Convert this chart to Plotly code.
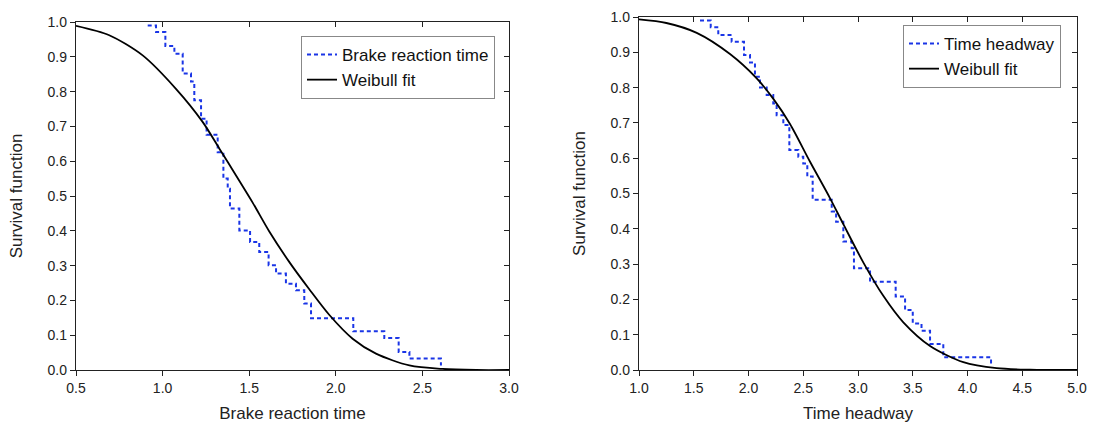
import plotly.graph_objects as go

# ---------------- data ----------------
# Left panel: empirical survival (step) for brake reaction time
brt_x = [0.914, 0.962, 1.016, 1.068, 1.116, 1.164, 1.183, 1.222, 1.254, 1.318, 1.351,
         1.376, 1.389, 1.443, 1.505, 1.558, 1.612, 1.655, 1.712, 1.77, 1.818, 1.857,
         2.101, 2.28, 2.363, 2.425, 2.607]
brt_s = [0.99, 0.971, 0.931, 0.909, 0.852, 0.829, 0.775, 0.722, 0.676, 0.626, 0.55,
         0.521, 0.464, 0.401, 0.368, 0.339, 0.301, 0.277, 0.248, 0.229, 0.191, 0.149,
         0.111, 0.092, 0.052, 0.033, 0.013]
# Left panel: Weibull fit
brt_fit_x = [0.5, 0.692, 0.885, 1.077, 1.231, 1.328, 1.424, 1.52, 1.616, 1.732,
             1.847, 1.963, 2.097, 2.232, 2.425, 2.617, 2.81, 3.0]
brt_fit_s = [0.989, 0.962, 0.904, 0.808, 0.713, 0.636, 0.559, 0.481, 0.398, 0.31,
             0.232, 0.158, 0.09, 0.047, 0.013, 0.003, 0.0, 0.0]

# Right panel: empirical survival (step) for time headway
thw_x = [1.557, 1.655, 1.724, 1.846, 1.959, 2.014, 2.059, 2.105, 2.166, 2.226,
         2.257, 2.318, 2.373, 2.455, 2.50, 2.537, 2.586, 2.76, 2.80, 2.866,
         2.942, 2.963, 3.11, 3.344, 3.43, 3.50, 3.58, 3.658, 3.779, 4.215]
thw_s = [0.99, 0.971, 0.949, 0.93, 0.892, 0.871, 0.831, 0.80, 0.779, 0.755,
         0.722, 0.694, 0.623, 0.604, 0.585, 0.548, 0.482, 0.449, 0.42, 0.364,
         0.345, 0.288, 0.25, 0.208, 0.17, 0.132, 0.111, 0.074, 0.036, 0.014]
# Right panel: Weibull fit
thw_fit_x = [1.0, 1.25, 1.527, 1.831, 2.075, 2.227, 2.379, 2.562, 2.744, 2.866,
             3.048, 3.231, 3.414, 3.658, 3.962, 4.266, 4.57, 5.0]
thw_fit_s = [0.993, 0.983, 0.955, 0.895, 0.826, 0.768, 0.697, 0.59, 0.487, 0.413,
             0.305, 0.21, 0.135, 0.068, 0.022, 0.005, 0.001, 0.0]

x_titles = ["Brake reaction time", "Time headway"]
y_title = "Survival function"
legend_names = [["Brake reaction time", "Weibull fit"], ["Time headway", "Weibull fit"]]

# ---------------- figure ----------------
W, H = 1093, 427
BLUE = "#1a35e6"
AX = "#222222"
FONT = "Arial, Liberation Sans, sans-serif"

fig = go.Figure()

fig.add_trace(go.Scatter(x=brt_x, y=brt_s, mode="lines", line_shape="hv",
                         line=dict(color=BLUE, width=2, dash="4px,3px"),
                         name=legend_names[0][0], xaxis="x", yaxis="y", legend="legend"))
fig.add_trace(go.Scatter(x=brt_fit_x, y=brt_fit_s, mode="lines", line_shape="spline",
                         line=dict(color="black", width=1.8, smoothing=0.8),
                         name=legend_names[0][1], xaxis="x", yaxis="y", legend="legend"))
fig.add_trace(go.Scatter(x=thw_x, y=thw_s, mode="lines", line_shape="hv",
                         line=dict(color=BLUE, width=2, dash="4px,3px"),
                         name=legend_names[1][0], xaxis="x2", yaxis="y2", legend="legend2"))
fig.add_trace(go.Scatter(x=thw_fit_x, y=thw_fit_s, mode="lines", line_shape="spline",
                         line=dict(color="black", width=1.8, smoothing=0.8),
                         name=legend_names[1][1], xaxis="x2", yaxis="y2", legend="legend2"))
# invisible traces so that mirrored (inward-tick) axes are drawn
for xa, ya in (("x3", "y3"), ("x4", "y4")):
    fig.add_trace(go.Scatter(x=[None], y=[None], xaxis=xa, yaxis=ya, showlegend=False,
                             hoverinfo="skip"))

dom = {
    "L": dict(x=[76 / W, 509 / W], y=[(H - 370) / H, (H - 22) / H]),
    "R": dict(x=[639 / W, 1077 / W], y=[(H - 370) / H, (H - 17) / H]),
}

tickfont = dict(family=FONT, size=14, color=AX)
titlefont = dict(family=FONT, size=17, color=AX)

def main_x(domain, rng, dtick, title, anchor):
    return dict(domain=domain, range=rng, dtick=dtick, tick0=rng[0], anchor=anchor,
                automargin=False,
                showline=True, linecolor=AX, linewidth=1.4, ticks="outside",
                ticklen=5, tickwidth=1.2, tickcolor=AX, showgrid=False, zeroline=False,
                tickformat=".1f", tickfont=tickfont,
                title=dict(text=title, font=titlefont, standoff=12))

def main_y(domain, anchor):
    return dict(domain=domain, range=[0, 1.0], dtick=0.1, anchor=anchor,
                automargin=False,
                showline=True, linecolor=AX, linewidth=1.4, ticks="outside",
                ticklen=5, tickwidth=1.2, tickcolor=AX, showgrid=False, zeroline=False,
                tickformat=".1f", tickfont=tickfont,
                title=dict(text=y_title, font=titlefont, standoff=20))

def mirror_x(rng, dtick, over, anchor):
    return dict(overlaying=over, side="top", range=rng, dtick=dtick, tick0=rng[0],
                anchor=anchor, automargin=False, showline=True, linecolor=AX, linewidth=1.4,
                ticks="inside", ticklen=5, tickwidth=1.2, tickcolor=AX,
                showticklabels=False, showgrid=False, zeroline=False)

def mirror_y(over, anchor):
    return dict(overlaying=over, side="right", range=[0, 1.0], dtick=0.1,
                anchor=anchor, automargin=False, showline=True, linecolor=AX, linewidth=1.4,
                ticks="inside", ticklen=5, tickwidth=1.2, tickcolor=AX,
                showticklabels=False, showgrid=False, zeroline=False)

legend_common = dict(bgcolor="white", bordercolor="#888888", borderwidth=1,
                     font=dict(family=FONT, size=17, color="#111111"),
                     xanchor="right", yanchor="top", tracegroupgap=0,
                     itemwidth=30)

fig.update_layout(
    width=W, height=H,
    margin=dict(l=0, r=0, t=0, b=0, autoexpand=False),
    paper_bgcolor="white", plot_bgcolor="white",
    font=dict(family=FONT, color=AX),
    xaxis=main_x(dom["L"]["x"], [0.5, 3.0], 0.5, x_titles[0], "y"),
    yaxis=main_y(dom["L"]["y"], "x"),
    xaxis2=main_x(dom["R"]["x"], [1.0, 5.0], 0.5, x_titles[1], "y2"),
    yaxis2=main_y(dom["R"]["y"], "x2"),
    xaxis3=mirror_x([0.5, 3.0], 0.5, "x", "y3"),
    yaxis3=mirror_y("y", "x3"),
    xaxis4=mirror_x([1.0, 5.0], 0.5, "x2", "y4"),
    yaxis4=mirror_y("y2", "x4"),
    legend=dict(x=495 / W, y=(H - 36) / H, **legend_common),
    legend2=dict(x=1061 / W, y=(H - 25) / H, **legend_common),
    showlegend=True,
)

fig.write_html("out.html",
               config={"displayModeBar": False},
               post_script="document.body.style.margin='0';document.body.style.padding='0';")
